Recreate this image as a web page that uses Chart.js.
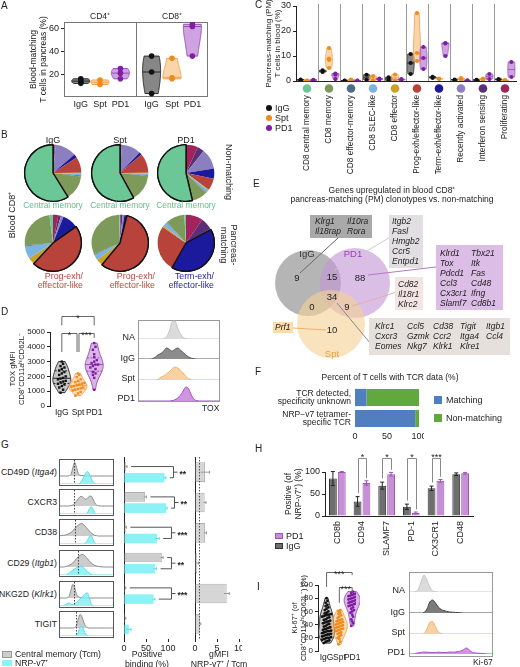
<!DOCTYPE html>
<html><head><meta charset="utf-8">
<script src="https://cdn.jsdelivr.net/npm/chart.js"></script>
<style>
html,body{margin:0;padding:0;background:#fff;}
#root{position:relative;width:520px;height:667px;overflow:hidden;font-family:'Liberation Sans',Arial,sans-serif;color:#222;}
.t{position:absolute;white-space:nowrap;line-height:1;font-size:8.5px;}
.bx{position:absolute;box-sizing:border-box;}
</style></head><body><div id="root"></div>
<script>
// ================= DATA =================
const groups=['IgG','Spt','PD1'];
// Panel A
const aFacets=['CD4⁺','CD8⁺'];
const aCD4IgG=[12,13,15,16], aCD4Spt=[11,15], aCD4PD1=[16,21,25];
const aCD8IgG=[3,22,36], aCD8Spt=[16,17,34], aCD8PD1=[36,62,64];
const aYTicks=[20,40,60];
// Panel C
const cCats=['CD8 central memory','CD8 memory','CD8 effector-memory','CD8 SLEC-like','CD8 effector','Prog-exh/effector-like','Term-exh/effector-like','Recently activated','Interferon sensing','Proliferating'];
const cColors=['#6cc797','#7d9a5a','#4f6a87','#7ab4e3','#c9a227','#b8433a','#1c1a9c','#8b7fc0','#5b2f78','#a3245c'];
const cIgG=[[0.3,0.6],[3.6,4.3],[0.1,0.2],[0.5,2.5],[0.3,1.5],[2.8,7.2,10.8],[1.2,1.7],[0.4,0.6],[0.3,0.5],[0.5,0.8]];
const cSpt=[[0.1,0.2],[5.2,8.4,9,13.2],[0.3,0.6],[0.3,2],[0.3,2.6],[8,11.2,27.2],[0.8,1],[0.6,1.2],[0.5,1],[0.2,0.4]];
const cPD1=[[0.3,0.5],[0.8,2.5,3],[0.1,0.2],[0.6,1],[0.4,0.8],[4.8,9.2,13.6],[10,15,15.2],[0.1,0.3],[0.8,2.8],[1.6,7.6]];
const cYTicks=[0,10,20,30];
// Panel B (pie shares, order = cCats)
const pieIgGNon=[58,14,0.5,1,0.5,9,2,12,0.5,1];
const pieSptNon=[57,15,0.5,1,0.3,11,1.5,11,0.5,0.5];
const pieP1Non=[55,9,0.5,1.5,0.5,7,6,12,4,7];
const pieIgGPM=[2,24,0.5,7,4,46,9,1.5,1.5,3];
const pieSptPM=[0.5,31,0.5,3,4,57,1.5,1,1,0.5];
const pieP1PM=[1,11,0.3,2.5,1,27,42,0.5,7,10];
// Panel D
const dIgG=[900,1100,1250,1350,1450,1500,1600,1650,1700,1800,1850,1900,2000,2100,2200,2300,2400,2500,2600,2700,2850,3000];
const dSpt=[700,850,950,1050,1100,1150,1200,1250,1300,1350,1400,1450,1500,1550,1600,1700,1800,1950,2100,2200];
const dPD1=[1100,1900,2100,2200,2300,2500,2600,2700,2800,2800,2900,3000,3100,3300,3500,3800,4000,4250];
const dYTicks=[0,1000,2000,3000,4000,5000];
const dhNA=[0,0,0,0,0,0,0,0,0,0.02,0.12,0.4,0.85,0.9,0.55,0.25,0.08,0.02,0,0,0,0,0,0,0,0,0,0,0,0];
const dhIgG=[0,0,0,0,0,0.03,0.1,0.22,0.28,0.4,0.55,0.48,0.4,0.48,0.55,0.45,0.32,0.2,0.1,0.04,0.01,0,0,0,0,0,0,0,0,0];
const dhSpt=[0,0,0,0,0,0,0,0.04,0.15,0.2,0.3,0.42,0.55,0.65,0.6,0.5,0.35,0.18,0.06,0.02,0,0,0,0,0,0,0,0,0,0];
const dhPD1=[0,0,0,0,0,0,0,0,0,0,0,0,0.02,0.06,0.15,0.28,0.5,0.7,0.6,0.3,0.08,0.02,0,0,0,0,0,0,0,0];
// Panel E
const vennCounts=[9,15,88,34,0,9,10];
const geneBox1=[['Klrg1','Il10ra'],['Il18rap','Rora']];
const geneBox2=[['Itgb2'],['Fasl'],['Hmgb2'],['Ccr5'],['Entpd1']];
const geneBox3=[['Klrd1','Tbx21'],['Tox','Itk'],['Pdcd1','Fas'],['Ccl3','Cd48'],['Cx3cr1','Ifng'],['Slamf7','Cd8b1']];
const geneBox4=[['Cd82'],['Il18r1'],['Klrc2']];
const geneBox5=[['Klrc1','Ccl5','Cd38','Tigit','Itgb1'],['Cxcr3','Gzmk','Ccr2','Itga4','Ccl4'],['Eomes','Nkg7','Klrk1','Klre1','']];
const geneBox6=[['Prf1']];
// Panel F
const fCats=[['TCR detected,','specificity unknown'],['NRP−v7 tetramer-','specific TCR']];
const fMatch=[18,94], fNon=[82,6];
const fTicks=[0,50,100];
// Panel G
const gCats=['CD49D (Itga4)','CXCR3','CD38','CD29 (Itgb1)','NKG2D (Klrk1)','TIGIT'];
const gTcm=[5,48,4,86,3,3], gTcmErr=[2,3,1.5,3,1,1];
const gNrp=[92,96,75,70,67,11], gNrpErr=[3,2,5,4,3,5];
const gSig=['**','**','***','**','***',''];
const gRatio=[2.3,2.2,2.3,0.5,7.2,1.1], gRatioErr=[1.0,0.3,0.3,0.3,0.6,0.2];
const gPosTicks=[0,50,100], gRatioTicks=[0,5,10];
const gGray0=[0,0,0,0,0,0.02,0.1,0.5,0.85,0.55,0.15,0.05,0.03,0.02,0.02,0.01,0,0,0,0,0,0,0,0,0,0,0,0,0,0];
const gGray1=[0,0,0,0,0,0,0.02,0.06,0.15,0.3,0.45,0.58,0.6,0.5,0.42,0.48,0.6,0.62,0.45,0.2,0.06,0.02,0,0,0,0,0,0,0,0];
const gGray2=[0.02,0.03,0.04,0.06,0.1,0.15,0.22,0.32,0.45,0.58,0.68,0.75,0.78,0.7,0.58,0.45,0.32,0.2,0.1,0.04,0.02,0,0,0,0,0,0,0,0,0];
const gGray3=[0,0,0,0.03,0.06,0.1,0.16,0.25,0.38,0.52,0.65,0.74,0.78,0.75,0.66,0.52,0.38,0.26,0.16,0.1,0.06,0.03,0.02,0.01,0,0,0,0,0,0];
const gGray4=[0,0,0,0,0.02,0.1,0.5,0.85,0.65,0.25,0.08,0.03,0.01,0,0,0,0,0,0,0,0,0,0,0,0,0,0,0,0,0];
const gGray5=[0,0,0,0,0,0,0,0,0.03,0.15,0.55,0.85,0.7,0.35,0.1,0.03,0,0,0,0,0,0,0,0,0,0,0,0,0,0];
const gCyan0=[0,0,0,0,0,0,0,0,0,0,0,0.04,0.15,0.3,0.45,0.52,0.42,0.25,0.1,0.03,0,0,0,0,0,0,0,0,0,0];
const gCyan1=[0,0,0,0,0,0,0,0,0,0,0,0,0,0,0,0.05,0.2,0.3,0.22,0.06,0,0,0,0,0,0,0,0,0,0];
const gCyan2=[0,0,0,0,0,0,0,0,0,0,0,0,0,0,0.05,0.15,0.3,0.35,0.2,0.05,0,0,0,0,0,0,0,0,0,0];
const gCyan3=[0,0,0,0,0.03,0.08,0.14,0.2,0.25,0.3,0.34,0.37,0.36,0.3,0.22,0.14,0.08,0.03,0,0,0,0,0,0,0,0,0,0,0,0];
const gCyan4=[0,0,0.02,0.06,0.1,0.12,0.08,0.06,0.1,0.15,0.22,0.3,0.38,0.45,0.52,0.55,0.35,0.1,0.02,0,0,0,0,0,0,0,0,0,0,0];
const gCyan5=[0,0,0,0,0,0,0,0,0,0.03,0.15,0.38,0.42,0.25,0.08,0.02,0,0,0,0,0,0,0,0,0,0,0,0,0,0];
const gVline=[7.9,7.9,8.4,9.8,7.4,8.8];
// Panel H
const hCats=['CD8b','CD94','SLAMF7','PD-1','CX3CR1','CD48'];
const hIgG=[85,33,69,21,63,95], hIgGErr=[16,11,8,6,5,3];
const hPD1=[100,75,95,7,80,97], hPD1Err=[1,5,4,2,3,2];
const hSig=['','*','*','*','***',''];
const hYTicks=[0,50,100];
// Panel I
const iIgG=[12,14,15,16,17,18,19,20,20,21,22,23,24,25,25,26,27,28,29,30,30,31,32,33,34,35,36,37,38,40,41,42,43,44,45,46,47,48,50,51,52,53,54,55,55,56,57,58,60,62,64,66,68,70,73,76,80];
const iSpt=[10,14,18,20,22,24,26,27,28,30,31,32,33,34,35,36,37,38,39,40,41,42,43,44,45,46,47,48,50,52,54,56,58,60,62];
const iPD1=[38,42,45,48,52,55,58,60,62,64,66,68,69,70,71,72,73,74,75,76,77,78,79,80,81,82,83,84,85,86,87,88,90];
const iYTicks=[0,20,40,60,80,100];
const ihNA=[0,0,0.02,0.15,0.55,0.85,0.6,0.25,0.06,0.02,0,0,0,0,0,0,0,0,0,0,0,0,0,0,0,0,0,0,0,0];
const ihIgG=[0,0,0,0,0,0.03,0.2,0.55,0.65,0.5,0.3,0.18,0.12,0.08,0.05,0.04,0.03,0.02,0.01,0,0,0,0,0,0,0,0,0,0,0];
const ihSpt=[0,0,0,0,0,0.04,0.25,0.58,0.62,0.35,0.1,0.03,0,0,0,0,0,0,0,0,0,0,0,0,0,0,0,0,0,0];
const ihPD1=[0,0,0.03,0.06,0.08,0.1,0.09,0.08,0.07,0.08,0.09,0.08,0.07,0.08,0.1,0.09,0.1,0.12,0.15,0.22,0.3,0.2,0.08,0.05,0.04,0.03,0.02,0.01,0,0];

// ================= SETUP =================
Chart.defaults.font.family="'Liberation Sans', Arial, sans-serif";
Chart.defaults.font.size=8.5;
Chart.defaults.color='#222';
Chart.defaults.animation=false;
Chart.defaults.responsive=false;
Chart.defaults.maintainAspectRatio=false;
Chart.defaults.devicePixelRatio=1;
Chart.defaults.plugins.legend.display=false;
Chart.defaults.plugins.tooltip.enabled=false;
Chart.defaults.events=[];

const root=document.getElementById('root');
function mk(x,y,w,h,cfg){const c=document.createElement('canvas');c.width=w;c.height=h;c.style.cssText=`position:absolute;left:${x}px;top:${y}px;width:${w}px;height:${h}px;`;root.appendChild(c);return new Chart(c.getContext('2d'),cfg);}
function T(x,y,html,o={}){const d=document.createElement('div');d.className='t';d.innerHTML=html;let s=`left:${x}px;top:${y}px;`;if(o.size)s+=`font-size:${o.size}px;`;if(o.color)s+=`color:${o.color};`;if(o.italic)s+='font-style:italic;';if(o.lh)s+=`line-height:${o.lh}px;`;if(o.ta)s+=`text-align:${o.ta};`;let tr='';if(o.align==='center')tr='translateX(-50%)';if(o.align==='right')tr='translateX(-100%)';if(o.rot!=null)tr=`translate(-50%,-50%) rotate(${o.rot}deg)`;if(tr)s+='transform:'+tr+';';d.style.cssText=s;root.appendChild(d);return d;}
function R(x,y,w,h,bg,border){const d=document.createElement('div');d.className='bx';d.style.cssText=`left:${x}px;top:${y}px;width:${w}px;height:${h}px;background:${bg};${border?'border:'+border+';':''}`;root.appendChild(d);return d;}
function fit(w,h){return function(s){if(w!=null)s.width=w;if(h!=null)s.height=h;s.paddingTop=0;s.paddingBottom=0;s.paddingLeft=0;s.paddingRight=0;};}
const num=v=>String(v);

const gColor={IgG:'#111',Spt:'#ef8a1c',PD1:'#7d1f9e'};
const gFill={IgG:'rgba(95,95,95,0.75)',Spt:'rgba(247,178,100,0.55)',PD1:'rgba(175,100,205,0.6)'};
const gStroke={IgG:'#2a2a2a',Spt:'#f0a050',PD1:'#9b4fb5'};

const violinPlugin={id:'violin',beforeDatasetsDraw(chart){
 const ctx=chart.ctx,xs=chart.scales.x,ys=chart.scales.y;
 chart.data.datasets.forEach(ds=>{
  const v=ds.violin;if(!v)return;
  const vals=ds.data.map(p=>p.y).slice().sort((a,b)=>a-b);
  const n=vals.length;if(n<2)return;
  const lo=vals[0],hi=vals[n-1];if(hi-lo<=0)return;
  const mean=vals.reduce((a,b)=>a+b,0)/n;
  const sd=Math.sqrt(vals.reduce((a,b)=>a+(b-mean)*(b-mean),0)/(n-1));
  const bw=(v.bwk||1)*1.06*sd*Math.pow(n,-0.2)||1;
  const dens=y=>vals.reduce((s,u)=>{const z=(y-u)/bw;return s+Math.exp(-0.5*z*z);},0);
  const N=48,pts=[];let mx=0;
  for(let i=0;i<=N;i++){const y=lo+(hi-lo)*i/N;const d=dens(y);pts.push([y,d]);if(d>mx)mx=d;}
  const cx=xs.getPixelForValue(v.x);
  ctx.save();ctx.beginPath();
  pts.forEach(([y,d],i)=>{const px=cx+d/mx*v.w,py=ys.getPixelForValue(y);i?ctx.lineTo(px,py):ctx.moveTo(px,py);});
  for(let i=N;i>=0;i--){const [y,d]=pts[i];ctx.lineTo(cx-d/mx*v.w,ys.getPixelForValue(y));}
  ctx.closePath();ctx.fillStyle=v.fill;ctx.fill();ctx.lineWidth=v.lw||1;ctx.strokeStyle=v.stroke;ctx.stroke();
  const q=p=>{const k=(n-1)*p,f=Math.floor(k),c=Math.ceil(k);return vals[f]+(vals[c]-vals[f])*(k-f);};
  const hl=(y,dash)=>{const d=dens(y)/mx*v.w,py=ys.getPixelForValue(y);ctx.setLineDash(dash||[]);ctx.beginPath();ctx.moveTo(cx-d,py);ctx.lineTo(cx+d,py);ctx.stroke();};
  if(v.median!==false)hl(q(0.5));
  if(v.quart){hl(q(0.25),[2,1.5]);hl(q(0.75),[2,1.5]);}
  ctx.restore();
 });
}};
function swarm(vals,bin,step){const idx=vals.map((v,i)=>i).sort((a,b)=>vals[a]-vals[b]);const mn=vals[idx[0]];const B={};idx.forEach(i=>{const k=Math.floor((vals[i]-mn)/bin);(B[k]=B[k]||[]).push(i);});const off=vals.map(()=>0);Object.values(B).forEach(g=>g.forEach((i,k)=>{off[i]=(k-(g.length-1)/2)*step;}));return off;}
function vds(vals,xc,g,o){const off=o.off||vals.map(()=>0);return {data:vals.map((v,i)=>({x:xc+off[i],y:v})),pointRadius:o.r,pointStyle:o.ps||'circle',backgroundColor:gColor[g],borderColor:gColor[g],borderWidth:0,violin:{x:xc,w:o.w,fill:(o.fills||gFill)[g],stroke:(o.strokes||gStroke)[g],quart:o.quart,lw:o.lw,median:o.median}};}
function yAx(ticks,width,title,o={}){return {type:'linear',min:o.min!=null?o.min:ticks[0],max:o.max!=null?o.max:ticks[ticks.length-1],afterFit:fit(width,null),afterBuildTicks(s){s.ticks=ticks.map(v=>({value:v}));},border:{display:o.border!==false,color:'#222',width:1},grid:{display:true,drawOnChartArea:false,tickLength:3,color:'#222'},ticks:{padding:2,color:'#222',font:{size:o.fs||8.5},callback:num},title:title?{display:true,text:title,padding:0,color:'#222',font:{size:o.ts||8.5,lineHeight:1.15}}:{display:false}};}
function xAx(min,max,pos,labels,height,o={}){return {type:'linear',min,max,afterFit:fit(null,height),afterBuildTicks(s){s.ticks=pos.map(v=>({value:v}));},ticks:{autoSkip:false,maxRotation:o.rot||0,minRotation:o.rot||0,padding:o.pad!=null?o.pad:2,callback:(v,i)=>labels[i],color:'#222',font:{size:o.fs||8.5}},grid:{display:false,drawTicks:false},border:{display:!!o.border,color:'#222'}};}
function framePlugin(divs){return {id:'frame',beforeDatasetsDraw(c){const {left,right,top,bottom}=c.chartArea,ctx=c.ctx;ctx.save();ctx.strokeStyle='#777';ctx.lineWidth=1;ctx.strokeRect(Math.round(left)+0.5,Math.round(top)+0.5,Math.round(right-left)-1,Math.round(bottom-top)-1);divs.forEach(v=>{const x=Math.round(c.scales.x.getPixelForValue(v))+0.5;ctx.beginPath();ctx.moveTo(x,top);ctx.lineTo(x,bottom);ctx.stroke();});ctx.restore();}};}
function brPlugin(list,color){return {id:'br',afterDraw(c){const ctx=c.ctx,xs=c.scales.x,ys=c.scales.y;ctx.save();ctx.strokeStyle=color||'#555';ctx.lineWidth=1;ctx.fillStyle='#222';ctx.font="9px 'Liberation Sans'";ctx.textAlign='center';ctx.textBaseline='alphabetic';list.forEach(b=>{const x1=xs.getPixelForValue(b.a),x2=xs.getPixelForValue(b.b),y=Math.round(ys.getPixelForValue(b.y))+0.5;ctx.beginPath();ctx.moveTo(x1,ys.getPixelForValue(b.ta));ctx.lineTo(x1,y);ctx.lineTo(x2,y);ctx.lineTo(x2,ys.getPixelForValue(b.tb));ctx.stroke();ctx.fillText(b.s,(x1+x2)/2,y+4);});ctx.restore();}};}
function vlinePlugin(v,color){return {id:'vl',afterDatasetsDraw(c){const x=Math.round(c.scales.x.getPixelForValue(v))+0.5;const {top,bottom}=c.chartArea;const ctx=c.ctx;ctx.save();ctx.strokeStyle=color||'#333';ctx.setLineDash([1.5,1.5]);ctx.lineWidth=1;ctx.beginPath();ctx.moveTo(x,top);ctx.lineTo(x,bottom);ctx.stroke();ctx.restore();}};}
function errPlugin(errs,horizontal,colors){return {id:'err',afterDatasetsDraw(c){const ctx=c.ctx;ctx.save();ctx.lineWidth=1;errs.forEach((arr,d)=>{if(!arr)return;const meta=c.getDatasetMeta(d);const ds=c.data.datasets[d];meta.data.forEach((el,i)=>{const v=ds.data[i],e=arr[i];if(!e)return;ctx.strokeStyle=colors[d];ctx.beginPath();if(horizontal){const s=c.scales.x;const x1=s.getPixelForValue(v-e),x2=s.getPixelForValue(v+e);const y=el.y;ctx.moveTo(x1,y);ctx.lineTo(x2,y);ctx.moveTo(x2,y-1.5);ctx.lineTo(x2,y+1.5);}else{const s=c.scales.y;const y1=s.getPixelForValue(v-e),y2=s.getPixelForValue(v+e);const x=el.x;ctx.moveTo(x,y1);ctx.lineTo(x,y2);ctx.moveTo(x-2,y2);ctx.lineTo(x+2,y2);ctx.moveTo(x-2,y1);ctx.lineTo(x+2,y1);}ctx.stroke();});});ctx.restore();}};}
function hiArc(idx){return {id:'hi',afterDatasetsDraw(c){const el=c.getDatasetMeta(0).data[idx];if(el)el.draw(c.ctx,c.chartArea);}};}

// ================= PANEL A =================
const aX=[0.7,1.5,2.35,3.65,4.5,5.35];
const aSets=[aCD4IgG,aCD4Spt,aCD4PD1,aCD8IgG,aCD8Spt,aCD8PD1];
mk(29,10,186,99,{type:'scatter',data:{datasets:aSets.map((vals,i)=>vds(vals,aX[i],groups[i%3],{w:9,r:2.8}))},
 options:{layout:{padding:{top:12,right:7}},scales:{x:xAx(0,6,aX,groups.concat(groups),12,{fs:9}),y:yAx(aYTicks,35,['Blood-matching','T cells in pancreas (%)'],{min:0,max:66,border:false,fs:9})}},
 plugins:[framePlugin([3]),violinPlugin]});
T(100,12,aFacets[0],{align:'center'});T(172,12,aFacets[1],{align:'center'});

// ================= PANEL C =================
const cDs=[];
cCats.forEach((c,i)=>{[cIgG,cSpt,cPD1].forEach((arr,g)=>{cDs.push(vds(arr[i],i+(g-1)*0.29,groups[g],{w:3.6,r:2.1,lw:0.8}));});});
const cCatPlugin={id:'ccat',afterDraw(c){const ctx=c.ctx,xs=c.scales.x,{top,bottom}=c.chartArea;ctx.save();ctx.strokeStyle='#999';ctx.lineWidth=1;for(let i=0;i<cCats.length-1;i++){const x=Math.round(xs.getPixelForValue(i+0.5))+0.5;ctx.beginPath();ctx.moveTo(x,top-2);ctx.lineTo(x,bottom);ctx.stroke();}cCats.forEach((n,i)=>{ctx.beginPath();ctx.arc(xs.getPixelForValue(i),bottom+7.5,4.3,0,Math.PI*2);ctx.fillStyle=cColors[i];ctx.fill();});ctx.restore();}};
mk(264,0,256,175,{type:'scatter',data:{datasets:cDs},
 options:{layout:{padding:{top:6,right:1}},scales:{x:xAx(-0.5,9.5,cCats.map((_,i)=>i),cCats,94,{rot:90,pad:14,border:true,fs:8.3}),y:yAx(cYTicks,32,['Pancreas-matching (PM)','T cells in blood (%)'],{ts:8,fs:9})}},
 plugins:[violinPlugin,cCatPlugin]});
[['IgG',108],['Spt',118],['PD1',128]].forEach(([g,y])=>{const d=T(266,y-3,'');d.style.cssText+=`width:6px;height:6px;border-radius:50%;background:${gColor[g]};`;T(275,y-4.5,g,{size:9});});

// ================= PANEL B =================
const pieOrder=[9,8,7,6,5,4,3,2,1,0];
function pie(cx,cy,vals,hi){const r=30;mk(cx-r,cy-r,2*r,2*r,{type:'pie',data:{labels:pieOrder.map(i=>cCats[i]),datasets:[{data:pieOrder.map(i=>vals[i]),backgroundColor:pieOrder.map(i=>cColors[i]),borderColor:pieOrder.map(i=>i===hi?'#111':cColors[i]),borderWidth:pieOrder.map(i=>i===hi?1.4:0)}]},options:{layout:{padding:1}},plugins:[hiArc(pieOrder.indexOf(hi))]});}
pie(53,173,pieIgGNon,0);pie(120,173,pieSptNon,0);pie(186,173,pieP1Non,0);
pie(53,243,pieIgGPM,5);pie(120,243,pieSptPM,5);pie(186,243,pieP1PM,6);
T(53,136,'IgG',{align:'center',size:9});T(120,136,'Spt',{align:'center',size:9});T(186,136,'PD1',{align:'center',size:9});
[53,120,186].forEach(x=>T(x,201,'Central memory',{align:'center',size:8.4,color:'#5cc28e'}));
T(83,272,'Prog-exh/<br>effector-like',{align:'right',ta:'right',size:8.8,lh:9,color:'#c0463a'});
T(155,272,'Prog-exh/<br>effector-like',{align:'right',ta:'right',size:8.8,lh:9,color:'#c0463a'});
T(214,272,'Term-exh/<br>effector-like',{align:'right',ta:'right',size:8.8,lh:9,color:'#1c1a9c'});
T(228,172,'Non-matching',{rot:90,size:9});
T(229,245,'Pancreas-<br>matching',{rot:90,size:9,lh:10,ta:'center'});
T(12,215,'Blood CD8⁺',{rot:-90,size:9});

// ================= PANEL D =================
const dFills={IgG:'rgba(150,150,150,0.55)',Spt:'rgba(247,190,120,0.5)',PD1:'rgba(190,120,215,0.55)'};
mk(9,300,96,118,{type:'scatter',data:{datasets:[dIgG,dSpt,dPD1].map((vals,g)=>vds(vals,g,groups[g],{w:9,r:1.7,ps:'rect',off:swarm(vals,300,0.16),quart:true,fills:dFills}))},
 options:{layout:{padding:{top:32,right:3}},scales:{x:xAx(-0.73,2.42,[0,1,2],groups,12),y:yAx(dYTicks,41,['TOX gMFI','CD8⁺CD11aʰⁱCD62L⁻'],{fs:8,ts:7.6})}},
 plugins:[violinPlugin,brPlugin([{a:0,b:2,y:6080,ta:5450,tb:5450,s:'*'},{a:0,b:0.94,y:4930,ta:3650,tb:3650,s:'*'},{a:1.06,b:2,y:4930,ta:3650,tb:4600,s:'***'}],'#666')]});
function ridge(x,y,w,h,vals,line,fill){mk(x,y,w,h,{type:'line',data:{labels:vals.map((_,i)=>i),datasets:[{data:vals,borderColor:line,backgroundColor:fill,fill:'origin',borderWidth:1,pointRadius:0,cubicInterpolationMode:'monotone'}]},options:{layout:{padding:{top:0,bottom:1,left:0,right:0},autoPadding:false},scales:{x:{display:false},y:{display:false,min:0,max:1}}}});}
R(138,320,82,82,'transparent','1px solid #999');
ridge(139,319,80,21,dhNA,'#c4c4c4','rgba(215,215,215,0.9)');
ridge(139,339,80,21,dhIgG,'#555','rgba(120,120,120,0.85)');
ridge(139,360,80,21,dhSpt,'#f2b070','rgba(247,200,145,0.85)');
ridge(139,381,80,21,dhPD1,'#a050c0','rgba(200,130,220,0.85)');
T(135,333,'NA',{align:'right',size:9});T(135,354,'IgG',{align:'right',size:9});T(135,374,'Spt',{align:'right',size:9});T(135,394,'PD1',{align:'right',size:9});
T(202,404,'TOX',{size:8.5});

// ================= PANEL E =================
T(392,186,'Genes upregulated in blood CD8⁺<br>pancreas-matching (PM) clonotypes vs. non-matching',{align:'center',ta:'center',lh:9,size:8.5});
const vennPos=[[35,73],[70,72],[98,73],[70,92],[50,102],[85,102],[70,125]];
const vennLines=[[38,68,76,33,'#666'],[73,65,130,31,'#ccc'],[106,70,174,62,'#b07ac0'],[90,101,135,87,'#e0b0b0'],[75,98,108,138,'#888'],[31,123,64,125,'#f0b060']];
const vennPlugin={id:'venn',afterDatasetsDraw(c){const ctx=c.ctx,xs=c.scales.x,ys=c.scales.y;ctx.save();vennLines.forEach(l=>{ctx.strokeStyle=l[4];ctx.lineWidth=1;ctx.beginPath();ctx.moveTo(xs.getPixelForValue(l[0]),ys.getPixelForValue(l[1]));ctx.lineTo(xs.getPixelForValue(l[2]),ys.getPixelForValue(l[3]));ctx.stroke();});ctx.fillStyle='#222';ctx.font="9.5px 'Liberation Sans'";ctx.textAlign='center';ctx.textBaseline='middle';vennCounts.forEach((n,i)=>ctx.fillText(String(n),xs.getPixelForValue(vennPos[i][0]),ys.getPixelForValue(vennPos[i][1])));ctx.restore();}};
mk(262,205,258,165,{type:'bubble',data:{datasets:[
 {data:[{x:69,y:119,r:34}],backgroundColor:'rgba(246,210,150,0.62)',borderWidth:0},
 {data:[{x:93,y:78,r:35}],backgroundColor:'rgba(195,150,215,0.62)',borderWidth:0},
 {data:[{x:46,y:78,r:33}],backgroundColor:'rgba(150,150,150,0.7)',borderWidth:0}]},
 options:{layout:{padding:0,autoPadding:false},scales:{x:{display:false,min:0,max:258},y:{display:false,min:0,max:165,reverse:true}}},plugins:[vennPlugin]});
T(307,249,'IgG',{align:'center',size:9.5,color:'#333'});T(353,249,'PD1',{align:'center',size:9.5,color:'#9b3fb5'});T(332,349,'Spt',{align:'center',size:9.5,color:'#e8a040'});
function genes(x,y,w,h,bg,rows,cols,top){R(x,y,w,h,bg);rows.forEach((r,ri)=>r.forEach((g,ci)=>{if(g)T(cols[ci],top+ri*10,g,{italic:true,size:8.5});}));}
genes(310,215,62,23,'#a9a9a9',geneBox1,[315,347],217);
genes(389,215,34,53,'#e2dfe3',geneBox2,[392],217);
genes(436,245,67,65,'#dbbde5',geneBox3,[440,471],249);
genes(395,277,28,33,'#f3e5e4',geneBox4,[398],280);
genes(369,318,141,37,'#e6e0dd',geneBox5,[375,407,433,460,486],322);
genes(273,322,20,11,'#fcdcaa',geneBox6,[275],323);

// ================= PANEL F =================
T(390,373,'Percent of T cells with TCR data (%)',{align:'center',size:8.5});
mk(262,385,162,55,{type:'bar',data:{labels:fCats,datasets:[{label:'Matching',data:fMatch,backgroundColor:'#4f7fbf'},{label:'Non-matching',data:fNon,backgroundColor:'#63a83c'}]},
 options:{indexAxis:'y',layout:{padding:{top:2,right:5}},datasets:{bar:{categoryPercentage:0.82,barPercentage:1}},
 scales:{x:{stacked:true,min:0,max:100,afterFit:fit(null,11),afterBuildTicks(s){s.ticks=fTicks.map(v=>({value:v}));},grid:{display:false,drawTicks:false},border:{display:false},ticks:{padding:2,font:{size:9}}},
 y:{stacked:true,afterFit:fit(93,null),grid:{display:false,drawTicks:false},border:{display:false},ticks:{padding:4,font:{size:8.5,lineHeight:0.95}}}}}});
R(434,396,8,8,'#4f7fbf');T(446,396,'Matching',{size:9});R(434,414,8,8,'#63a83c');T(446,414,'Non-matching',{size:9});

// ================= PANEL G =================
const gGrays=[gGray0,gGray1,gGray2,gGray3,gGray4,gGray5], gCyans=[gCyan0,gCyan1,gCyan2,gCyan3,gCyan4,gCyan5];
const gTops=[459,489,519,550,581,611];
gTops.forEach((top,i)=>{
 R(59,top,55,27,'transparent','1px solid #555');
 mk(60,top+1,53,25,{type:'line',data:{labels:gGrays[i].map((_,k)=>k),datasets:[
  {data:gCyans[i],yAxisID:'y',borderColor:'#5fdde4',backgroundColor:'rgba(125,238,242,0.8)',fill:'origin',borderWidth:1,pointRadius:0,cubicInterpolationMode:'monotone'},
  {data:gGrays[i],yAxisID:'yg',borderColor:'#8a8a8a',backgroundColor:'rgba(195,195,195,0.85)',fill:'origin',borderWidth:1,pointRadius:0,cubicInterpolationMode:'monotone'}]},
  options:{layout:{padding:{top:0,bottom:1},autoPadding:false},scales:{x:{display:false},y:{display:false,min:0,max:1},yg:{display:false,min:-0.5,max:1}}},plugins:[vlinePlugin(gVline[i],'#444')]});
});
const gLab=['CD49D (<i>Itga4</i>)','CXCR3','CD38','CD29 (<i>Itgb1</i>)','NKG2D (<i>Klrk1</i>)','TIGIT'];
gLab.forEach((l,i)=>T(57,gTops[i]+9,l,{align:'right',size:8.7}));
const gBr={id:'gbr',afterDraw(c){const ctx=c.ctx,xs=c.scales.x;const m0=c.getDatasetMeta(0),m1=c.getDatasetMeta(1);ctx.save();ctx.strokeStyle='#555';ctx.lineWidth=1;ctx.fillStyle='#222';ctx.font="bold 8.5px 'Liberation Sans'";ctx.textBaseline='middle';gSig.forEach((s,i)=>{if(!s)return;const y0=m0.data[i].y,y1=m1.data[i].y;const e0=xs.getPixelForValue(gTcm[i]+gTcmErr[i])+4,e1=xs.getPixelForValue(gNrp[i]+gNrpErr[i])+4;const xb=Math.round(Math.max(e0,e1,c.chartArea.right)+3)+0.5;ctx.beginPath();ctx.moveTo(e0,y0);ctx.lineTo(xb,y0);ctx.lineTo(xb,y1);ctx.lineTo(e1,y1);ctx.moveTo(xb,(y0+y1)/2);ctx.lineTo(xb+4,(y0+y1)/2);ctx.stroke();ctx.fillText(s,xb+6,(y0+y1)/2+2.5);});ctx.restore();}};
mk(118,455,78,200,{type:'bar',data:{labels:gCats,datasets:[{data:gTcm,backgroundColor:'#cdcdcd',borderColor:'#b0b0b0',borderWidth:1},{data:gNrp,backgroundColor:'#8cf2f5',borderWidth:0}]},
 options:{indexAxis:'y',layout:{padding:{top:2,right:28}},datasets:{bar:{categoryPercentage:0.74,barPercentage:0.85}},
 scales:{x:{type:'linear',min:0,max:100,afterFit:fit(null,16),afterBuildTicks(s){s.ticks=gPosTicks.map(v=>({value:v}));},grid:{drawOnChartArea:false,tickLength:3,color:'#222'},border:{display:false},ticks:{padding:1,font:{size:9}}},
 y:{afterFit:fit(6,null),ticks:{display:false},grid:{display:false,drawTicks:false},border:{display:true,color:'#222'}}}},
 plugins:[errPlugin([gTcmErr,gNrpErr],true,['#999','#5fdde4']),gBr]});
mk(190,455,52,200,{type:'bar',data:{labels:gCats,datasets:[{data:gRatio,backgroundColor:'#d6d6d6',borderColor:'#b0b0b0',borderWidth:1}]},
 options:{indexAxis:'y',layout:{padding:{top:2,right:3}},datasets:{bar:{categoryPercentage:0.72,barPercentage:0.9}},
 scales:{x:{type:'linear',min:0,max:10,afterFit:fit(null,16),afterBuildTicks(s){s.ticks=gRatioTicks.map(v=>({value:v}));},grid:{drawOnChartArea:false,tickLength:3,color:'#222'},border:{display:false},ticks:{padding:1,font:{size:9}}},
 y:{afterFit:fit(5,null),ticks:{display:false},grid:{display:false,drawTicks:false},border:{display:true,color:'#222'}}}},
 plugins:[errPlugin([gRatioErr],true,['#999']),vlinePlugin(1,'#555')]});
T(147,650,'Positive<br>binding (%)',{align:'center',ta:'center',lh:9.5,size:8.7});
T(219,650,'gMFI<br>NRP-v7⁺ / Tcm',{align:'center',ta:'center',lh:9.5,size:8.7});
R(2,651,10,7,'#cdcdcd','1px solid #999');T(15,650,'Central memory (Tcm)',{size:8.7});
R(2,660,10,6,'#8cf2f5');T(15,659,'NRP-v7⁺',{size:8.7});

// ================= PANEL H =================
const hBr={id:'hbr',afterDraw(c){const ctx=c.ctx,ys=c.scales.y;const m0=c.getDatasetMeta(0),m1=c.getDatasetMeta(1);ctx.save();ctx.strokeStyle='#8a8a8a';ctx.lineWidth=1;ctx.fillStyle='#222';ctx.font="9px 'Liberation Sans'";ctx.textAlign='center';ctx.textBaseline='alphabetic';hSig.forEach((s,i)=>{if(!s)return;const x0=Math.round(m0.data[i].x)+0.5,x1=Math.round(m1.data[i].x)+0.5;const yt=Math.round(ys.getPixelForValue(132))+0.5;const t0=ys.getPixelForValue(hIgG[i]+hIgGErr[i]+8),t1=ys.getPixelForValue(hPD1[i]+hPD1Err[i]+6);ctx.beginPath();ctx.moveTo(x0,t0);ctx.lineTo(x0,yt);ctx.lineTo(x1,yt);ctx.lineTo(x1,t1);ctx.stroke();ctx.fillText(s,(x0+x1)/2,yt+1);});ctx.restore();}};
mk(284,445,193,115,{type:'bar',data:{labels:hCats,datasets:[{label:'IgG',data:hIgG,backgroundColor:'#6e6e6e',borderColor:'#333',borderWidth:1},{label:'PD1',data:hPD1,backgroundColor:'#c68fd6',borderColor:'#9c55b4',borderWidth:1}]},
 options:{layout:{padding:{top:27,right:4}},datasets:{bar:{categoryPercentage:0.72,barPercentage:0.88}},
 scales:{x:{afterFit:fit(null,44),grid:{display:false,drawTicks:false},border:{display:true,color:'#222'},ticks:{minRotation:90,maxRotation:90,padding:5,autoSkip:false,font:{size:9}}},
 y:yAx(hYTicks,41,['Positive (of','NRP-v7⁺) (%)'],{fs:9})}},
 plugins:[errPlugin([hIgGErr,hPD1Err],false,['#222','#9c55b4']),hBr]});
R(275,533,8,6,'#c68fd6','1px solid #9c55b4');T(286,532,'PD1',{size:9});
R(275,543,8,6,'#6e6e6e','1px solid #333');T(286,542,'IgG',{size:9});

// ================= PANEL I =================
const iFills={IgG:'rgba(150,150,150,0.5)',Spt:'rgba(247,190,120,0.5)',PD1:'rgba(190,120,215,0.55)'};
mk(291,560,69,104,{type:'scatter',data:{datasets:[iIgG,iSpt,iPD1].map((vals,g)=>vds(vals,g,groups[g],{w:8,r:1.4,off:swarm(vals,5,0.14),fills:iFills,median:false}))},
 options:{layout:{padding:{top:25,right:2}},scales:{x:xAx(-0.67,2.3,[0,1,2],groups,13,{fs:8.5}),y:yAx(iYTicks,27,['Ki-67⁺ (of','CD8⁺CD11aʰⁱCD62L⁻) (%)'],{fs:8,ts:7.4})}},
 plugins:[violinPlugin,brPlugin([{a:0,b:2,y:119.5,ta:97,tb:115,s:'***'},{a:1,b:2,y:97,ta:73,tb:89,s:'***'}],'#666')]});
R(409,572,84,85,'transparent','1px solid #999');
ridge(410,572,82,21,ihNA,'#c4c4c4','rgba(215,215,215,0.9)');
ridge(410,593,82,21,ihIgG,'#444','rgba(110,110,110,0.9)');
ridge(410,614,82,21,ihSpt,'#f2b070','rgba(247,200,145,0.85)');
ridge(410,634,82,21,ihPD1,'#a050c0','rgba(200,130,220,0.85)');
T(405,586,'NA',{align:'right',size:9});T(405,608,'IgG',{align:'right',size:9});T(405,628,'Spt',{align:'right',size:9});T(405,648,'PD1',{align:'right',size:9});
T(473,658,'Ki-67',{size:8.5});

// ================= PANEL LETTERS =================
[['A',1,1],['B',1,130],['C',255,0],['D',1,307],['E',253,179],['F',255,367],['G',1,440],['H',255,444],['I',257,582]].forEach(([l,x,y])=>T(x,y,l,{size:10}));
</script></body></html>
